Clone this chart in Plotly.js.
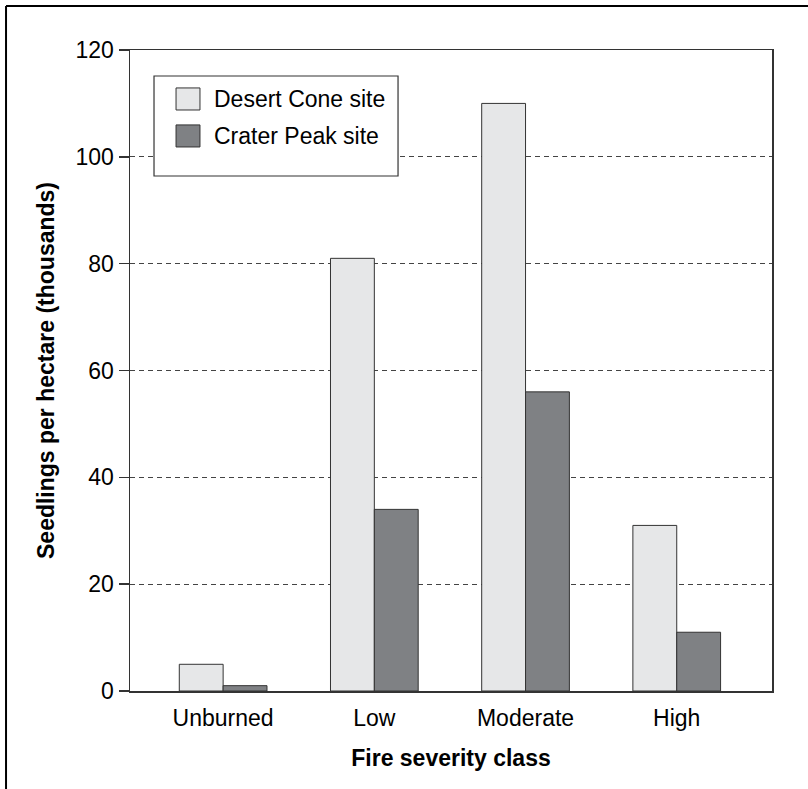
<!DOCTYPE html>
<html>
<head>
<meta charset="utf-8">
<script src="https://cdn.plot.ly/plotly-3.0.1.min.js"></script>
<style>
html,body{margin:0;padding:0;background:#fff;}
#chart{width:808px;height:789px;}
</style>
</head>
<body>
<div id="chart"></div>
<script>
const categories = ["Unburned", "Low", "Moderate", "High"];
const seriesNames = ["Desert Cone site", "Crater Peak site"];
const desertCone = [5, 81, 110, 31];
const craterPeak = [1, 34, 56, 11];
const seriesColors = ["#e6e7e8", "#7f8184"];
const yTicks = [0, 20, 40, 60, 80, 100, 120];

const FONT = "Liberation Sans, Arial, sans-serif";

const traces = [desertCone, craterPeak].map((vals, i) => ({
  type: "bar",
  x: categories,
  y: vals,
  name: seriesNames[i],
  marker: {color: seriesColors[i], line: {color: "#333333", width: 1}},
  showlegend: false,
  hoverinfo: "x+y+name"
}));

// custom legend (box + swatches + labels)
const legX0 = 0.0374, legX1 = 0.4175, legY1 = 0.9594, legY0 = 0.8034;
const shapes = [
  // outer frame (left & top edges visible)
  {type: "line", xref: "paper", yref: "paper", x0: -0.1931, x1: -0.1931, y0: 1.0686, y1: -0.17, line: {color: "#000", width: 2}},
  {type: "line", xref: "paper", yref: "paper", x0: -0.1931, x1: 1.07, y0: 1.0686, y1: 1.0686, line: {color: "#000", width: 2}},
  // legend box
  {type: "rect", xref: "paper", yref: "paper", x0: legX0, x1: legX1, y0: legY0, y1: legY1, fillcolor: "#fff", line: {color: "#333", width: 1.2}, layer: "above"}
];
const annotations = [];
const rowY = [0.9236, 0.8659];
seriesNames.forEach((nm, i) => {
  const sx0 = 0.0717, sx1 = 0.1090;
  const h = 0.0172;
  shapes.push({type: "rect", xref: "paper", yref: "paper", x0: sx0, x1: sx1, y0: rowY[i] - h, y1: rowY[i] + h,
    fillcolor: seriesColors[i], line: {color: "#333", width: 1}, layer: "above"});
  annotations.push({xref: "paper", yref: "paper", x: 0.1285, y: rowY[i], xanchor: "left", yanchor: "middle",
    text: nm, showarrow: false, font: {family: FONT, size: 23, color: "#000"}});
});

const layout = {
  width: 808, height: 789,
  margin: {l: 130, r: 36, t: 50, b: 98},
  paper_bgcolor: "#fff", plot_bgcolor: "#fff",
  font: {family: FONT, size: 23, color: "#000"},
  barmode: "group",
  bargap: 0.42,
  bargroupgap: 0,
  xaxis: {
    type: "category",
    range: [-0.616, 3.63],
    showline: true, linecolor: "#333", linewidth: 1.5, mirror: true,
    ticks: "", showgrid: false,
    ticklabelstandoff: 6,
    tickfont: {family: FONT, size: 23, color: "#000"},
    title: {text: "Fire severity class", font: {family: FONT, size: 23, color: "#000", weight: "bold"}, standoff: 20}
  },
  yaxis: {
    range: [0, 120],
    tickvals: yTicks,
    ticktext: yTicks.map(String),
    ticks: "outside", ticklen: 10, tickwidth: 1.5, tickcolor: "#333",
    showline: true, linecolor: "#333", linewidth: 1.5, mirror: true,
    showgrid: true, gridcolor: "#444", gridwidth: 1, griddash: "5px,4px",
    zeroline: false,
    tickfont: {family: FONT, size: 23, color: "#000"},
    title: {text: "Seedlings per hectare (thousands)", font: {family: FONT, size: 23, color: "#000", weight: "bold"}, standoff: 14}
  },
  shapes: shapes,
  annotations: annotations
};

Plotly.newPlot("chart", traces, layout, {displayModeBar: false, staticPlot: true});
</script>
</body>
</html>
